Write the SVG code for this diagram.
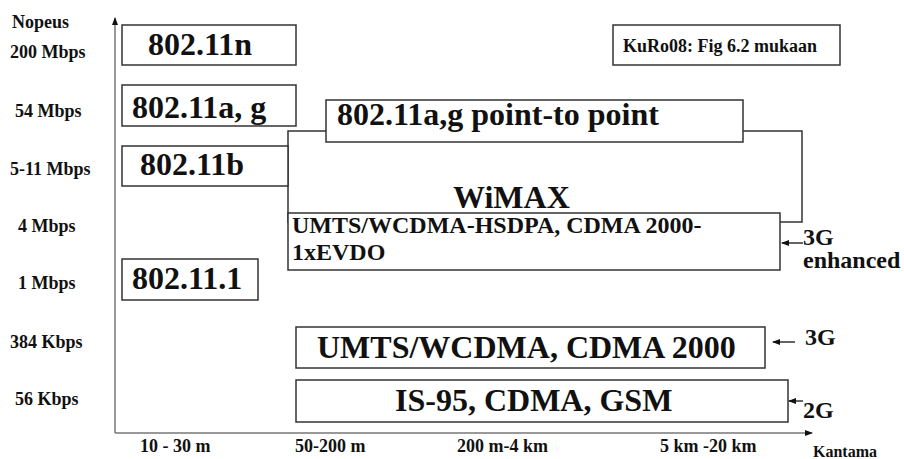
<svg xmlns="http://www.w3.org/2000/svg" width="904" height="459" viewBox="0 0 904 459">
<style>
text{font-family:"Liberation Serif","Times New Roman",serif;font-weight:bold;fill:#111}
.box{fill:#fff;stroke:#333;stroke-width:1.5}
.ax{stroke:#777;stroke-width:1.5;fill:none}
.lbl{font-size:18px}
.big{font-size:32px}
.mid{font-size:24px}
.arr{stroke:#111;stroke-width:1.3;fill:none}
</style>
<defs>
<marker id="ah" markerWidth="8" markerHeight="6" refX="7" refY="3" orient="auto" markerUnits="userSpaceOnUse">
<path d="M0,0 L8,3 L0,6 Z" fill="#111"/>
</marker>
</defs>
<g id="axes">
<line class="ax" x1="115" y1="433" x2="115" y2="18" marker-end="url(#ah)"/>
<line class="ax" x1="115" y1="433" x2="812" y2="433" marker-end="url(#ah)"/>
</g>
<g id="y-labels">
<text class="lbl" x="12" y="28">Nopeus</text>
<text class="lbl" x="10" y="58">200 Mbps</text>
<text class="lbl" x="15" y="117">54 Mbps</text>
<text class="lbl" x="10" y="175">5-11 Mbps</text>
<text class="lbl" x="18" y="232">4 Mbps</text>
<text class="lbl" x="18" y="289">1 Mbps</text>
<text class="lbl" x="10" y="348">384 Kbps</text>
<text class="lbl" x="15" y="405">56 Kbps</text>
</g>
<g id="x-labels">
<text class="lbl" x="140" y="452">10 - 30 m</text>
<text class="lbl" x="295" y="452">50-200 m</text>
<text class="lbl" x="457" y="452">200 m-4 km</text>
<text class="lbl" x="660" y="452">5 km -20 km</text>
<text x="813" y="457" font-size="16">Kantama</text>
</g>
<g id="wimax">
<rect class="box" x="288" y="131" width="514" height="91"/>
<text class="big" x="453" y="208">WiMAX</text>
</g>
<g id="n80211n">
<rect class="box" x="122" y="25" width="174" height="40"/>
<text class="big" x="148" y="55">802.11n</text>
</g>
<g id="n80211ag">
<rect class="box" x="122" y="85" width="174" height="41"/>
<text class="big" x="132" y="118">802.11a, g</text>
</g>
<g id="n80211b">
<rect class="box" x="122" y="146" width="166" height="40"/>
<text class="big" x="140" y="175">802.11b</text>
</g>
<g id="n802111">
<rect class="box" x="122" y="259" width="136" height="41"/>
<text class="big" x="132" y="289">802.11.1</text>
</g>
<g id="ptp">
<rect class="box" x="326" y="100" width="417" height="42"/>
<text class="big" x="337" y="125">802.11a,g point-to point</text>
</g>
<g id="hsdpa">
<rect class="box" x="288" y="213" width="492" height="57"/>
<text class="mid" x="292" y="233">UMTS/WCDMA-HSDPA, CDMA 2000-</text>
<text class="mid" x="292" y="260">1xEVDO</text>
</g>
<g id="umts">
<rect class="box" x="296" y="327" width="469" height="41"/>
<text class="big" x="317" y="358">UMTS/WCDMA, CDMA 2000</text>
</g>
<g id="gsm">
<rect class="box" x="296" y="380" width="492" height="42"/>
<text class="big" x="395" y="411">IS-95, CDMA, GSM</text>
</g>
<g id="kuro">
<rect class="box" x="613" y="25" width="227" height="40"/>
<text class="lbl" x="623" y="52">KuRo08: Fig 6.2 mukaan</text>
</g>
<g id="gen-labels">
<text class="mid" x="803" y="245">3G</text>
<text class="mid" x="803" y="268">enhanced</text>
<text class="mid" x="805" y="345">3G</text>
<text class="mid" x="803" y="418">2G</text>
</g>
<g id="connectors">
<line class="arr" x1="803" y1="243" x2="782" y2="243" marker-end="url(#ah)"/>
<line class="arr" x1="795" y1="342" x2="773" y2="342" marker-end="url(#ah)"/>
<line class="arr" x1="803" y1="401" x2="789" y2="401" marker-end="url(#ah)"/>
</g>
</svg>
